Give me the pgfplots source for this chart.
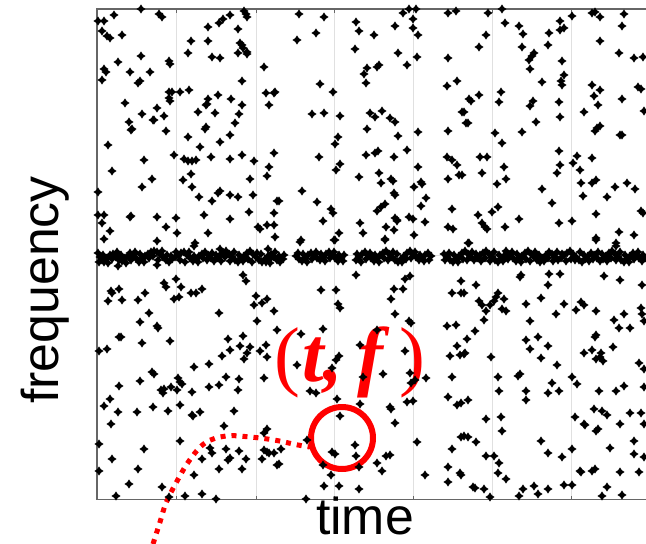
\documentclass[border=0pt]{standalone}
\usepackage{pgfplots}
\pgfplotsset{compat=1.18}
\usepackage{fontspec}
\setmainfont{Liberation Sans}
\newfontfamily\tffont{Liberation Serif}
\pgfdeclareplotmark{spark}{%
  \pgfpathmoveto{\pgfqpoint{0pt}{\pgfplotmarksize}}%
  \pgfpathlineto{\pgfqpoint{0.4\pgfplotmarksize}{0.4\pgfplotmarksize}}%
  \pgfpathlineto{\pgfqpoint{\pgfplotmarksize}{0pt}}%
  \pgfpathlineto{\pgfqpoint{0.4\pgfplotmarksize}{-0.4\pgfplotmarksize}}%
  \pgfpathlineto{\pgfqpoint{0pt}{-\pgfplotmarksize}}%
  \pgfpathlineto{\pgfqpoint{-0.4\pgfplotmarksize}{-0.4\pgfplotmarksize}}%
  \pgfpathlineto{\pgfqpoint{-\pgfplotmarksize}{0pt}}%
  \pgfpathlineto{\pgfqpoint{-0.4\pgfplotmarksize}{0.4\pgfplotmarksize}}%
  \pgfpathclose\pgfusepathqfill}
\pgfplotstableread{
x y
141 9
114 15
98 21
104 21
159 14
162 17
102 31
107 36
110 38
122 35
141 56
118 62
169 61
170 64
104 69
106 72
102 80
130 72
150 72
138 83
140 81
125 103
142 114
157 108
164 116
153 120
154 120
129 122
131 130
132 129
166 131
108 145
144 160
112 171
152 179
142 187
98 192
98 215
104 215
130 217
131 216
102 223
110 231
104 239
157 217
166 227
157 241
176 218
177 233
169 92
169 98
170 101
172 92
180 92
189 90
174 155
191 41
188 53
208 27
208 41
212 57
220 58
219 23
223 19
230 15
244 11
246 14
247 17
238 29
240 43
242 45
243 48
247 52
238 53
247 54
242 81
208 99
207 104
206 105
218 95
231 99
242 105
198 112
215 113
239 114
235 123
206 127
205 129
230 135
188 137
220 142
200 147
184 159
188 161
192 161
196 160
211 157
230 159
242 155
254 161
191 174
183 180
192 187
199 197
212 201
218 193
220 191
230 195
238 197
253 195
250 179
204 215
230 219
249 212
208 233
264 67
266 93
274 93
275 92
269 105
274 153
269 167
267 176
277 201
274 213
258 227
260 229
267 225
274 225
275 237
195 243
299 14
324 17
297 40
316 33
356 22
359 31
374 35
395 26
403 13
409 9
416 9
413 19
413 28
418 35
355 49
398 53
417 57
407 65
367 68
364 74
377 67
379 65
366 83
448 13
456 11
448 58
447 86
457 81
320 84
333 92
312 114
324 113
340 116
370 113
375 117
382 111
390 118
395 122
367 129
398 136
418 132
448 131
462 112
338 137
335 144
319 157
366 155
375 153
378 151
394 157
407 150
340 164
336 170
359 177
379 173
381 183
391 179
393 181
394 193
395 195
418 167
414 187
421 182
422 184
447 157
452 160
457 165
448 179
459 175
302 191
317 202
331 209
333 213
323 221
301 240
334 240
339 233
360 223
363 233
385 204
381 207
377 211
395 218
397 220
397 221
386 227
394 230
385 239
409 217
413 219
414 235
426 198
421 206
425 222
452 209
448 227
453 229
279 201
488 13
502 9
505 23
486 35
479 47
519 26
523 34
522 47
549 33
560 21
560 30
564 28
548 45
572 16
592 13
595 12
600 17
624 14
622 26
600 41
619 53
634 58
643 57
534 53
532 56
529 60
530 69
562 61
542 82
564 75
561 81
562 85
592 85
600 90
594 96
598 105
638 87
641 89
622 99
501 92
499 102
479 95
469 99
471 101
464 112
466 123
468 123
533 101
530 106
559 102
560 117
536 122
584 112
597 128
600 126
595 131
644 111
620 135
622 135
495 133
502 143
522 132
559 151
480 157
487 157
482 173
462 175
504 167
506 179
497 184
560 165
557 173
577 156
573 163
580 170
592 158
581 183
592 183
596 180
542 189
583 196
607 197
615 187
627 183
635 189
552 203
478 215
482 223
485 227
487 229
492 212
498 207
505 227
519 219
559 223
572 221
596 214
641 211
643 213
469 243
596 238
619 232
634 235
616 243
194 246
220 249
268 249
118 266
157 265
243 275
246 281
270 263
111 291
112 293
119 289
108 301
122 300
138 300
145 293
164 283
166 287
176 279
181 287
174 299
179 297
191 293
196 293
202 289
149 313
140 322
157 326
158 328
219 313
256 296
254 305
262 303
267 299
274 311
257 321
277 330
119 337
121 337
99 351
107 349
142 343
170 341
228 339
243 336
240 346
250 347
230 350
222 356
247 353
244 359
260 351
266 345
267 357
194 367
209 364
152 372
154 374
140 381
119 386
110 399
104 406
118 412
137 412
153 407
161 390
163 393
164 389
171 387
168 411
178 378
180 382
182 384
177 390
192 392
180 405
192 415
193 416
200 412
209 387
219 385
226 377
239 379
238 390
234 411
264 378
111 424
99 444
144 449
112 459
99 471
138 469
129 484
116 496
162 487
169 497
180 441
185 496
202 494
216 499
194 475
202 459
210 448
212 453
219 469
224 426
226 449
228 460
230 458
239 451
246 459
242 469
262 459
264 450
267 452
269 453
267 429
264 433
277 465
274 453
300 242
335 240
385 240
356 275
405 279
410 276
394 289
403 289
321 290
336 290
391 299
338 304
340 308
395 314
409 321
411 323
323 329
301 334
377 330
360 345
405 351
339 356
336 360
332 368
297 365
363 377
383 374
410 373
415 380
411 383
426 378
310 391
316 393
337 399
360 404
390 407
391 409
407 402
413 401
340 416
395 423
417 442
281 449
307 440
332 452
335 454
355 445
356 456
386 456
390 455
323 465
359 467
377 463
382 471
331 475
324 486
339 486
359 489
306 499
279 464
425 475
447 326
456 325
452 293
461 293
457 346
460 355
450 356
452 377
448 397
457 405
461 437
452 449
448 467
460 473
448 482
468 243
506 251
596 240
616 246
461 281
476 285
464 293
520 277
521 275
549 274
560 274
548 285
604 276
620 280
642 285
479 301
482 305
486 311
484 320
494 301
498 293
496 297
504 299
502 309
506 311
490 305
526 304
541 298
530 321
556 314
564 304
576 310
581 302
584 305
596 311
614 320
624 314
619 328
630 328
641 308
644 321
642 314
475 331
467 339
464 354
465 353
491 357
526 340
530 349
538 337
548 346
541 358
557 365
595 337
596 335
584 353
592 350
601 353
603 361
596 359
600 357
613 347
639 363
644 369
520 374
518 376
498 377
499 391
526 391
526 400
552 383
548 393
559 391
572 377
577 384
599 391
616 391
624 386
644 387
461 403
468 400
486 419
501 417
502 431
575 417
584 424
585 425
594 409
602 411
607 415
596 431
598 429
620 424
630 413
641 413
644 424
464 436
468 437
476 442
541 441
548 453
562 457
572 449
610 448
634 441
634 454
644 457
486 456
494 456
499 463
498 473
506 479
461 475
473 487
475 488
484 489
490 497
519 496
523 489
534 486
538 494
548 489
564 485
572 485
580 471
581 472
592 471
595 469
620 472
639 472
602 496
607 487
622 495
}\scatterpts
\pgfplotstableread{
x y
98 253
100 257
102 260
104 262
107 258
110 255
113 254
116 257
119 260
122 261
125 258
128 256
130 253
133 255
136 258
139 262
142 259
145 256
148 254
151 252
154 251
157 252
160 254
163 257
166 260
169 262
172 259
175 257
178 255
181 253
184 252
187 255
190 258
193 261
196 259
199 256
202 254
205 252
208 255
211 258
214 261
217 258
220 255
223 253
226 251
229 254
232 257
235 260
238 262
241 258
244 256
247 253
250 251
253 254
256 257
259 260
262 262
265 259
268 256
271 254
274 257
277 260
280 262
283 259
296 256
299 259
302 261
305 258
308 255
311 253
314 255
317 258
320 260
323 257
326 254
329 252
332 255
335 258
338 261
341 258
344 255
356 260
359 257
362 254
365 252
368 255
371 258
374 261
377 258
380 255
383 253
386 251
389 254
392 257
395 260
398 262
401 259
404 256
407 253
410 251
413 254
416 257
419 260
422 258
425 255
428 253
431 256
444 254
447 257
450 260
453 262
456 259
459 256
462 253
465 251
468 254
471 257
474 260
477 258
480 255
483 253
486 251
489 254
492 257
495 260
498 262
501 259
504 256
507 253
510 255
513 258
516 261
519 259
522 256
525 253
528 251
531 254
534 257
537 260
540 262
543 258
546 255
549 252
552 254
555 257
558 260
561 258
564 255
567 253
570 251
573 254
576 257
579 260
582 262
585 259
588 256
591 253
594 255
597 258
600 261
603 259
606 256
609 253
612 251
615 254
618 257
621 260
624 262
627 259
630 256
633 253
636 255
639 258
642 261
645 258
}\bandpts
\pgfplotstableread{
x y
99 262
103 255
108 263
112 259
117 252
121 255
126 263
131 260
135 252
140 254
144 262
149 258
153 256
158 260
162 251
167 255
171 256
176 252
180 260
185 262
189 252
194 256
198 262
203 258
207 260
212 253
216 255
221 261
225 257
230 261
234 252
239 255
243 261
248 259
252 262
257 253
261 254
266 262
270 259
275 252
279 256
284 255
298 253
303 254
307 262
312 259
316 252
321 254
325 261
330 258
334 252
339 255
343 261
357 254
361 262
366 259
370 253
375 255
379 262
384 258
388 260
393 252
397 254
402 262
406 259
411 258
415 252
420 255
424 261
429 260
445 260
449 253
454 255
458 262
463 259
467 260
472 252
476 254
481 261
485 258
490 261
494 252
499 255
503 261
508 259
512 252
517 254
521 262
526 259
530 261
535 252
539 255
544 261
548 258
553 261
557 252
562 254
566 261
571 259
575 260
580 252
584 255
589 261
593 259
598 252
602 254
607 261
611 258
616 260
620 252
625 255
629 262
634 259
638 252
643 255
}\bandptsb
\begin{document}
\begin{tikzpicture}
\begin{axis}[
  scale only axis, width=553bp, height=490.5bp,
  xmin=97, xmax=650, ymin=9, ymax=499.5, y dir=reverse,
  clip=false,
  axis line style={draw=black!60, line width=1.3bp},
  xtick={176,256,334,413,492,571}, ytick={255},
  xticklabels={}, yticklabels={},
  tick align=inside, major tick length=4bp,
  tick style={draw=black!60, line width=1bp},
  grid=major, grid style={draw=black!12, line width=0.9bp},
]
\addplot[only marks, mark=spark, mark size=4.6bp, black] table {\bandpts};
\addplot[only marks, mark=spark, mark size=4.6bp, black] table {\bandptsb};
\addplot[only marks, mark=spark, mark size=4.6bp, black] table {\scatterpts};
\addplot[red, line width=5bp, dash pattern=on 5bp off 6bp, smooth, tension=0.6] coordinates {
  (153,544) (160,522) (166,503) (176,483) (189,461) (205,443) (226,436) (250,437) (274,440) (298,445) (310,447)};
\draw[red, line width=6bp] (axis cs:342,438) circle[radius=31bp];
\node[red, font=\tffont\fontsize{78}{78}\selectfont, anchor=base west, inner sep=0pt] at (axis cs:274,381) {(\kern2bp\textbf{\textit{t,}}\kern14bp\textbf{\textit{f}}\kern10bp)};
\node[font=\fontsize{52}{52}\selectfont, anchor=base] at (axis cs:365,534) {time};
\node[font=\fontsize{52}{52}\selectfont, anchor=base, rotate=90] at (axis cs:59,290) {frequency};
\coordinate (bl) at (axis cs:0,544);
\coordinate (tr) at (axis cs:646,0);
\end{axis}
\pgfresetboundingbox
\path[use as bounding box] (bl) rectangle (tr);
\end{tikzpicture}
\end{document}
